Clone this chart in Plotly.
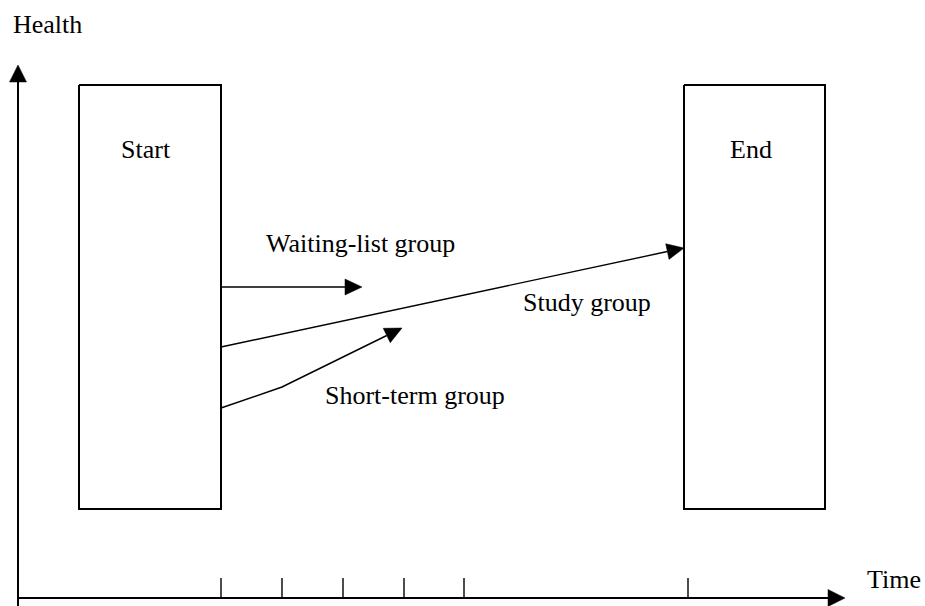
import numpy as np
import plotly.graph_objects as go

# ---- diagram data (in canvas units) ----
box_names = ["Start", "End"]
box_x0 = [79, 684]
box_x1 = [221, 825]
box_y0 = [85, 85]
box_y1 = [509, 509]

group_names = ["Waiting-list group", "Study group", "Short-term group"]
waiting_x = [221, 362]
waiting_y = [287, 287]
study_x = [221, 684]
study_y = [347, 248]
short_x = [221, 282, 402]
short_y = [408, 387, 328]

label_x = [360, 587, 415]
label_y = [243, 302, 395]

time_ticks = [221, 282, 343, 404, 464, 688]
axis_origin = (18, 598)
x_axis_end = 845
y_axis_end = 65

W, H = 925, 606
FONT = "Liberation Serif"
FS = 26

fig = go.Figure()


def line(xs, ys, width=1.4):
    fig.add_trace(go.Scatter(x=xs, y=ys, mode="lines",
                             line=dict(color="black", width=width),
                             hoverinfo="skip", showlegend=False))


def arrow(xs, ys, head_len=17, head_w=16, width=1.4):
    xs = list(map(float, xs))
    ys = list(map(float, ys))
    tx, ty = xs[-1], ys[-1]
    px, py = xs[-2], ys[-2]
    d = np.array([tx - px, ty - py])
    d = d / np.linalg.norm(d)
    n = np.array([-d[1], d[0]])
    base = np.array([tx, ty]) - d * head_len
    lx = xs[:-1] + [base[0]]
    ly = ys[:-1] + [base[1]]
    line(lx, ly, width)
    p1 = base + n * head_w / 2
    p2 = base - n * head_w / 2
    fig.add_trace(go.Scatter(x=[tx, p1[0], p2[0], tx], y=[ty, p1[1], p2[1], ty],
                             mode="lines", fill="toself", fillcolor="black",
                             line=dict(color="black", width=0.5),
                             hoverinfo="skip", showlegend=False))


# boxes
for x0, x1, y0, y1 in zip(box_x0, box_x1, box_y0, box_y1):
    line([x0, x1, x1, x0, x0], [y0, y0, y1, y1, y0], width=2)

# axes
ox, oy = axis_origin
arrow([ox, ox], [H, y_axis_end], head_len=17, head_w=17, width=2)
arrow([ox, x_axis_end], [oy, oy], head_len=17, head_w=17, width=2)
for t in time_ticks:
    line([t, t], [oy, oy - 20], width=1.4)

# group arrows
arrow(waiting_x, waiting_y)
arrow(study_x, study_y)
arrow(short_x, short_y)

ann = []
for name, x0, x1, y0 in zip(box_names, box_x0, box_x1, box_y0):
    ann.append(dict(x=(x0 + x1) / 2 - 4, y=y0 + 64, text=name))
for name, x, y in zip(group_names, label_x, label_y):
    ann.append(dict(x=x, y=y, text=name))
ann.append(dict(x=47, y=24, text="Health"))
ann.append(dict(x=894, y=579, text="Time"))
for a in ann:
    a.update(xref="x", yref="y", showarrow=False, xanchor="center", yanchor="middle",
             font=dict(family=FONT, size=FS, color="black"))

fig.update_layout(
    width=W, height=H, margin=dict(l=0, r=0, t=0, b=0),
    paper_bgcolor="white", plot_bgcolor="white",
    xaxis=dict(range=[0, W], visible=False, fixedrange=True),
    yaxis=dict(range=[H, 0], visible=False, fixedrange=True),
    annotations=ann, showlegend=False,
)
fig.write_html(
    "out.html",
    config={"displayModeBar": False},
    post_script="document.body.style.margin='0';document.body.style.overflow='hidden';",
)
